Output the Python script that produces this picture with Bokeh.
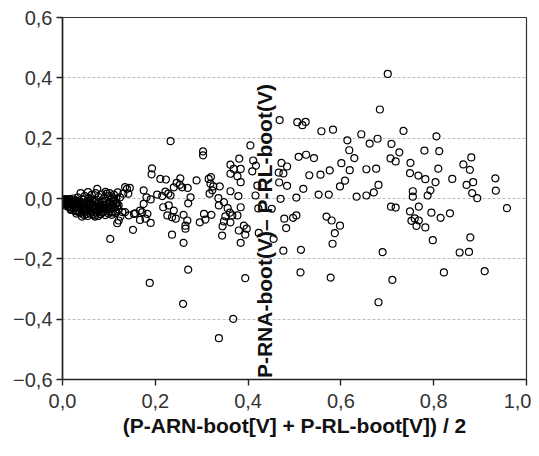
from bokeh.plotting import figure
from bokeh.models import Range1d, FixedTicker, Label
from bokeh.embed import file_html
from bokeh.resources import INLINE

# ---- data ----
cluster_x = [0.002,0.003,0.005,0.006,0.008,0.009,0.011,0.012,0.014,0.015,0.017,0.018,0.020,0.021,0.023,0.024,
             0.026,0.027,0.029,0.030,0.032,0.033,0.035,0.036,0.038,0.039,0.041,0.042,0.044,0.045,0.047,0.048,
             0.050,0.051,0.053,0.054,0.056,0.057,0.059,0.060,0.062,0.063,0.065,0.066,0.068,0.069,0.071,0.072,
             0.074,0.075,0.077,0.078,0.080,0.081,0.083,0.084,0.086,0.087,0.089,0.090,0.092,0.093,0.095,0.096,
             0.098,0.099,0.101,0.102,0.104,0.105,0.107,0.108,0.110,0.111,0.113,0.114,0.116,0.117,0.119,0.120,
             0.001,0.004,0.007,0.010,0.013,0.016,0.019,0.022,0.025,0.028,0.031,0.034,0.037,0.040,0.043,0.046,
             0.049,0.052,0.055,0.058,0.061,0.064,0.067,0.070,0.073,0.076,0.079,0.082,0.085,0.088,0.091,0.094,
             0.097,0.100,0.103,0.106,0.109,0.112,0.115,0.118,0.006,0.012,0.018,0.024,0.030,0.036,0.042,0.048,
             0.054,0.060,0.066,0.072,0.078,0.084,0.090]
cluster_y = [-0.004,-0.010,-0.016,-0.002,-0.008,-0.020,-0.012,-0.003,-0.024,-0.016,-0.006,-0.030,-0.011,-0.021,0.000,-0.034,
             -0.016,-0.027,-0.007,-0.040,-0.020,0.004,-0.031,-0.045,-0.012,-0.024,-0.050,-0.003,-0.037,-0.017,-0.055,0.008,
             -0.028,-0.044,-0.010,-0.058,-0.022,0.002,-0.036,-0.050,-0.015,0.012,-0.042,-0.027,-0.056,-0.005,-0.033,0.018,
             -0.047,-0.019,-0.058,0.005,-0.038,-0.024,-0.052,0.014,-0.012,-0.043,0.000,-0.030,-0.055,0.022,-0.020,-0.040,
             0.008,-0.050,-0.012,0.018,-0.036,-0.024,0.004,-0.046,-0.008,0.012,-0.030,-0.042,0.000,-0.015,0.020,-0.036,
             -0.012,-0.006,-0.024,-0.014,-0.028,-0.002,-0.036,-0.019,-0.008,-0.042,-0.026,-0.011,-0.048,-0.032,-0.020,-0.004,
             -0.038,-0.052,-0.030,-0.016,-0.044,-0.006,-0.034,-0.060,-0.026,-0.040,-0.012,-0.030,-0.046,-0.020,-0.036,-0.008,
             -0.028,-0.044,-0.016,-0.054,-0.022,-0.004,-0.048,-0.026,-0.018,-0.026,-0.038,-0.008,-0.050,-0.020,-0.060,-0.030,
             -0.040,-0.004,-0.052,-0.010,-0.030,-0.034,-0.022]

left_x = [0.233,0.303,0.303,0.405,0.193,0.192,0.362,0.381,0.369,0.384,0.377,0.384,0.362,0.211,0.223,0.246,0.254,0.253,0.258,0.289,
          0.240,0.315,0.320,0.319,0.325,0.323,0.317,0.339,0.276,0.271,0.362,0.379,0.336,0.175,0.181,0.190,0.204,0.215,0.222,0.228,
          0.233,0.172,0.183,0.179,0.190,0.217,0.229,0.240,0.226,0.236,0.244,0.261,0.269,0.265,0.236,0.261,0.305,0.321,0.296,0.308,
          0.337,0.348,0.356,0.361,0.351,0.348,0.345,0.344,0.366,0.377,0.362,0.380,0.391,0.397,0.394,0.384,0.423,0.103,0.152,0.265,
          0.188,0.271,0.260,0.394,0.368,0.337,0.384,0.154,0.143,0.129,0.121,0.118,0.125,0.082,0.086,0.100,0.114,0.139,0.142,0.131,
          0.124,0.121,0.157,0.135,0.175,0.167,0.167,0.039,0.055,0.075,0.096,0.411,0.417,0.409,0.420,0.422,0.416,0.270,0.135,0.145]
left_y = [0.190,0.156,0.143,0.176,0.100,0.080,0.112,0.132,0.098,0.098,0.074,0.054,0.082,0.065,0.063,0.052,0.067,0.045,0.037,0.060,
          0.037,0.065,0.071,0.049,0.040,0.027,0.016,0.040,0.004,-0.016,0.024,0.008,0.001,0.027,0.004,-0.003,0.013,0.008,0.023,0.016,
          0.010,-0.045,-0.051,-0.067,-0.081,-0.029,-0.023,-0.040,-0.056,-0.062,-0.067,-0.054,-0.073,-0.090,-0.120,-0.147,-0.051,-0.054,-0.079,-0.070,
          -0.023,-0.012,-0.032,-0.047,-0.059,-0.076,-0.092,-0.123,-0.056,-0.056,-0.079,-0.106,-0.090,-0.100,-0.120,-0.147,-0.114,-0.134,-0.104,-0.100,
          -0.280,-0.236,-0.349,-0.264,-0.399,-0.463,-0.029,-0.051,-0.056,-0.045,-0.073,-0.082,-0.060,-0.051,-0.034,-0.029,-0.018,0.032,0.016,0.016,
          0.004,-0.023,-0.049,-0.045,-0.018,-0.040,-0.071,0.018,0.021,0.032,0.016,0.126,0.109,0.090,0.043,-0.033,0.010,0.035,0.038,0.035]

right_x = [0.468,0.506,0.517,0.524,0.558,0.583,0.701,0.684,0.735,0.806,0.644,0.662,0.679,0.614,0.618,0.629,0.709,0.726,0.707,0.718,
           0.780,0.812,0.750,0.810,0.749,0.767,0.782,0.804,0.840,0.864,0.881,0.878,0.871,0.885,0.883,0.894,0.933,0.934,0.958,0.755,
           0.755,0.787,0.793,0.708,0.718,0.749,0.768,0.752,0.759,0.768,0.763,0.782,0.795,0.815,0.835,0.601,0.619,0.609,0.598,0.655,
           0.676,0.634,0.655,0.671,0.681,0.576,0.556,0.532,0.519,0.509,0.525,0.542,0.552,0.574,0.504,0.470,0.484,0.467,0.472,0.484,
           0.466,0.476,0.451,0.478,0.497,0.504,0.569,0.580,0.598,0.482,0.798,0.879,0.856,0.876,0.822,0.910,0.690,0.711,0.681,0.587,
           0.582,0.578,0.514,0.513,0.476,0.455]
right_y = [0.260,0.253,0.243,0.254,0.223,0.228,0.413,0.295,0.224,0.206,0.213,0.182,0.198,0.193,0.160,0.134,0.181,0.153,0.133,0.123,
           0.159,0.157,0.118,0.099,0.084,0.076,0.064,0.054,0.065,0.113,0.136,0.095,0.045,0.054,0.018,0.001,0.067,0.026,-0.032,0.024,
           0.006,0.010,0.027,-0.027,-0.030,-0.043,-0.027,-0.074,-0.066,-0.073,-0.091,-0.096,-0.047,-0.064,-0.049,0.117,0.094,0.059,0.040,0.097,
           0.099,0.006,0.010,0.020,0.045,0.093,0.079,0.077,0.032,0.138,0.145,0.134,0.013,0.013,0.003,-0.001,0.042,0.053,0.118,0.106,
           0.086,0.083,-0.034,-0.067,-0.064,-0.056,-0.060,-0.073,-0.090,-0.098,-0.138,-0.129,-0.179,-0.177,-0.245,-0.241,-0.178,-0.270,-0.344,-0.115,
           -0.150,-0.262,-0.170,-0.245,-0.173,-0.134]

x_ticks = [0.0, 0.2, 0.4, 0.6, 0.8, 1.0]
x_tick_labels = ["0,0", "0,2", "0,4", "0,6", "0,8", "1,0"]
y_ticks = [-0.6, -0.4, -0.2, 0.0, 0.2, 0.4, 0.6]
y_tick_labels = ["\u22120,6", "\u22120,4", "\u22120,2", "0,0", "0,2", "0,4", "0,6"]
grid_ticks = [-0.4, -0.2, 0.0, 0.2, 0.4]

x_title = "(P-ARN-boot[V] + P-RL-boot[V]) / 2"
y_title = "P-RNA-boot(V)\u2013 P-RL-boot(V)"

FONT = "Liberation Sans"

p = figure(width=531, height=448, output_backend="svg", toolbar_location=None,
           x_range=Range1d(0, 1), y_range=Range1d(-0.6, 0.6),
           min_border_left=62, min_border_right=5, min_border_top=17, min_border_bottom=69)
p.background_fill_color = "white"
p.border_fill_color = "white"
p.outline_line_color = "#333333"
p.outline_line_width = 1.2

all_x = cluster_x + left_x + right_x
all_y = cluster_y + left_y + right_y
p.scatter(all_x, all_y, marker="circle", size=7, fill_color=None,
          line_color="black", line_width=1.2)

p.xgrid.visible = False
p.ygrid.ticker = FixedTicker(ticks=grid_ticks)
p.ygrid.grid_line_color = "#bdbdbd"
p.ygrid.grid_line_dash = "3 2"
p.ygrid.grid_line_width = 1

for ax, ticks, labels in ((p.xaxis[0], x_ticks, x_tick_labels), (p.yaxis[0], y_ticks, y_tick_labels)):
    ax.ticker = FixedTicker(ticks=ticks, minor_ticks=[])
    ax.major_label_overrides = {t: l for t, l in zip(ticks, labels)}
    ax.major_label_text_font = FONT
    ax.major_label_text_font_size = "20px"
    ax.major_label_text_color = "#333333"
    ax.axis_line_color = "#222222"
    ax.axis_line_width = 1.6
    ax.major_tick_line_color = "#222222"
    ax.major_tick_line_width = 1.4
    ax.major_tick_out = 6
    ax.major_tick_in = 0
    ax.minor_tick_out = 0
    ax.minor_tick_in = 0

p.yaxis.major_label_standoff = 4
p.xaxis.major_label_standoff = 8
p.xaxis.axis_label = x_title
p.xaxis.axis_label_text_font = FONT
p.xaxis.axis_label_text_font_size = "21px"
p.xaxis.axis_label_text_font_style = "bold"
p.xaxis.axis_label_text_color = "#111111"
p.xaxis.axis_label_standoff = 3

p.add_layout(Label(x=0.435, y=-0.108, text=y_title, angle=90, angle_units="deg",
                   text_align="center", text_baseline="middle",
                   text_font=FONT, text_font_size="21px", text_font_style="bold",
                   text_color="#111111"))

open("out.html", "w").write(file_html(p, INLINE))
